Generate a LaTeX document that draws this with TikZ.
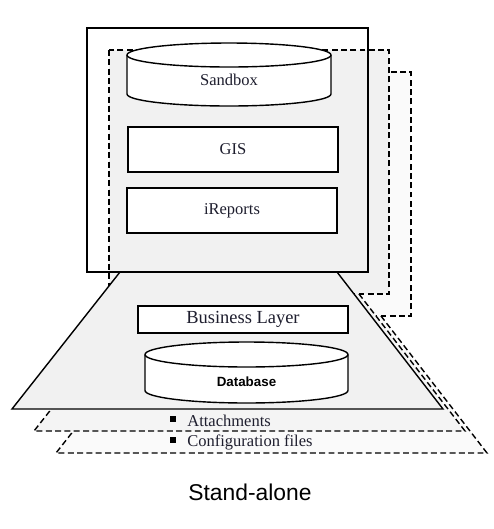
\documentclass[tikz,border=0pt]{standalone}
\usepackage{fontspec}
\setmainfont{Liberation Serif}
\newfontfamily\arialfont{Liberation Sans}
\usetikzlibrary{fit}
\definecolor{inktext}{HTML}{1E1E2E}
\definecolor{layerA}{HTML}{F1F1F1}
\definecolor{layerB}{HTML}{F4F4F4}
\definecolor{layerC}{HTML}{FAFAFA}
\tikzset{cell/.style={rectangle, draw, thick, fill=white, inner sep=0pt}}
\tikzset{drum/.style={thick, draw, fill=white}}
\tikzset{sheet/.style={thick, dash pattern=on 3.4pt off 1.9pt}}
\tikzset{bullet/.style={rectangle, fill=black, minimum size=0.12cm, inner sep=0pt}}

\begin{document}
\begin{tikzpicture}[x=0.02cm, y=0.02cm, font=\fontsize{9.4}{11}\selectfont]

    \useasboundingbox (0,0) rectangle (494,-529);

    % back layer
    \filldraw[sheet, fill=layerC] (131,-72) rectangle (411,-316);
    \fill[layerC] (164,-316) -- (381,-316) -- (487,-453) -- (56,-453) -- cycle;
    \draw[sheet] (164,-316) -- (56,-453) -- (487,-453) -- (381,-316);

    % middle layer
    \filldraw[sheet, fill=layerA] (109,-50) rectangle (389,-294);
    \fill[layerB] (142,-294) -- (359,-294) -- (465,-431) -- (34,-431) -- cycle;
    \draw[sheet] (142,-294) -- (34,-431) -- (465,-431) -- (359,-294);

    % front layer
    \fill[layerA] (120,-272) -- (337,-272) -- (443,-409) -- (12,-409) -- cycle;
    \draw[thick] (120,-272) -- (12,-409) -- (443,-409) -- (337,-272);
    \draw[thick] (87,-28) rectangle (368,-272);

    % sandbox drum
    \path[drum] (127,-55) -- (127,-94) arc[start angle=180, end angle=360, x radius=102, y radius=12]
       -- (331,-55) arc[start angle=0, end angle=180, x radius=102, y radius=12] -- cycle;
    \draw[thick] (127,-55) arc[start angle=180, end angle=360, x radius=102, y radius=12];
    \node[text=inktext] (sandbox) at (229,-80) {Sandbox};

    \node[cell, fit={(128,-127)(338,-172)}, label={[text=inktext]center:GIS}] (gis) {};
    \node[cell, fit={(127,-188)(337,-233)}, label={[text=inktext]center:iReports}] (ireports) {};

    \node[cell, fit={(138,-306)(348,-333)},
          label={[text=inktext, font=\fontsize{10.5}{12}\selectfont]center:Business Layer}] (business) {};

    % database drum
    \path[drum] (145,-354.5) -- (145,-390.5) arc[start angle=180, end angle=360, x radius=101.5, y radius=12.5]
       -- (348,-354.5) arc[start angle=0, end angle=180, x radius=101.5, y radius=12.5] -- cycle;
    \draw[thick] (145,-354.5) arc[start angle=180, end angle=360, x radius=101.5, y radius=12.5];
    \node[font=\arialfont\bfseries\fontsize{7.6}{9}\selectfont] (database) at (246.5,-382) {Database};

    \node[bullet] (dot1) at (173,-419) {};
    \node[anchor=west, inner sep=0pt, text=inktext] (attach) at (187,-421) {Attachments};
    \node[bullet] (dot2) at (173,-440) {};
    \node[anchor=west, inner sep=0pt, text=inktext] (config) at (187,-442) {Configuration files};

    \node[font=\arialfont\fontsize{13}{15}\selectfont] (title) at (250,-492) {Stand-alone};

\end{tikzpicture}
\end{document}
